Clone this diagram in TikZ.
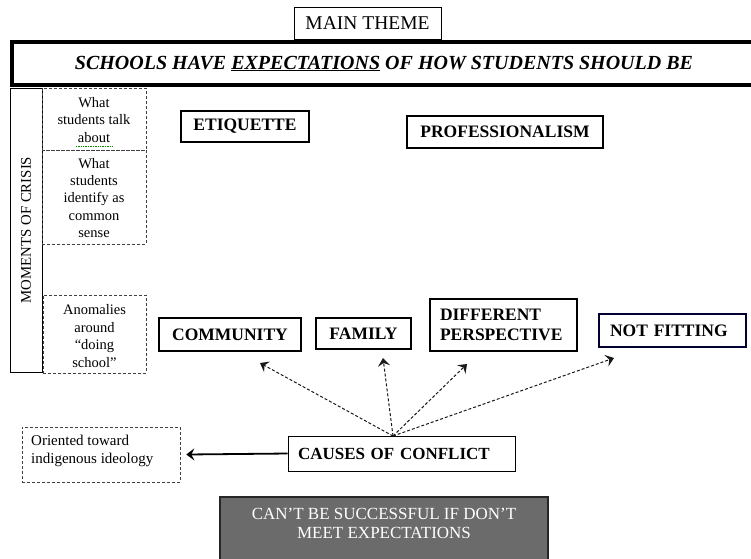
\documentclass[tikz,border=0pt]{standalone}
\usepackage{fontspec}
\setmainfont{Liberation Serif}
\usetikzlibrary{arrows.meta}

\tikzset{
  heavybox/.style={draw=black, line width=2.2pt, inner sep=0pt, font=\fontsize{17.5}{20}\selectfont\bfseries},
  lightbox/.style={draw=black, line width=0.8pt, inner sep=0pt},
  notebox/.style={draw=black!75, line width=0.6pt, densely dashed, inner sep=0pt},
  notetext/.style={align=center, font=\fontsize{14.5}{17.4}\selectfont, inner sep=0pt},
  chevron/.style={-{Stealth[length=8pt,width=12pt,inset=3pt]}},
  causearrow/.style={densely dashed, line width=1pt, black!90, chevron},
}

\begin{document}
\begin{tikzpicture}[x=1pt,y=-1pt]
\clip (0,0) rectangle (751,558);
\fill[white] (0,0) rectangle (751,558);

% title and main statement
\node[lightbox, minimum width=147, minimum height=32, font=\fontsize{19.5}{22}\selectfont]
  (theme) at (367.5,23) {MAIN THEME};
\node[draw=black, line width=4pt, minimum width=744, minimum height=43, inner sep=0pt,
  font=\fontsize{20}{22}\selectfont\bfseries\itshape]
  (banner) at (384,63.5) {SCHOOLS HAVE \underline{EXPECTATIONS} OF HOW STUDENTS SHOULD BE};

% moments of crisis column
\node[lightbox, rotate=90, minimum width=284, minimum height=32, font=\fontsize{14.8}{17}\selectfont]
  (crisis) at (26,230) {MOMENTS OF CRISIS};
\node[notebox, minimum width=104, minimum height=62] (talk) at (94,119) {};
\node[notetext] (talktxt) at (94,120) {What\\students talk\\about};
\draw[green!55!black, line width=0.7pt, densely dotted] (76,146) -- (112,146);
\node[notebox, minimum width=104, minimum height=94] (sense) at (94,197) {};
\node[notetext] (sensetxt) at (94,198) {What\\students\\identify as\\common\\sense};
\node[notebox, minimum width=103, minimum height=78] (anom) at (94.5,334) {};
\node[notetext] (anomtxt) at (94.5,336) {Anomalies\\around\\``doing\\school''};

% expectation themes
\node[heavybox, minimum width=128, minimum height=31] (etiq) at (245,126.5) {ETIQUETTE};
\node[heavybox, minimum width=196, minimum height=32] (prof) at (505,132) {PROFESSIONALISM};

% causes of conflict
\node[heavybox, minimum width=142, minimum height=33] (comm) at (230,334.5) {COMMUNITY};
\node[heavybox, minimum width=95, minimum height=31] (fam) at (363.5,333.5) {FAMILY};
\node[heavybox, minimum width=147, minimum height=52, text width=127, align=left,
  font=\fontsize{17.5}{20}\selectfont\bfseries] (persp) at (503.5,325) {DIFFERENT\\PERSPECTIVE};
\node[heavybox, draw=black!80!blue, minimum width=147, minimum height=33, text width=125, align=left]
  (notfit) at (672.5,330.5) {NOT FITTING};

\node[lightbox, minimum width=227, minimum height=35, text width=207, align=left,
  font=\fontsize{17}{20}\selectfont\bfseries] (causes) at (401.5,453.5) {CAUSES OF CONFLICT};

\node[notebox, minimum width=158, minimum height=55] (orient) at (101,454.5) {};
\node[align=left, anchor=north west, inner sep=0pt, font=\fontsize{15}{18}\selectfont]
  (orienttxt) at (31,435) {Oriented toward\\indigenous ideology};

\node[draw=black!85, line width=2pt, fill=black!58, minimum width=328, minimum height=80,
  inner sep=0pt] (fail) at (384,537) {};
\node[text=white, align=center, inner sep=0pt, font=\fontsize{17}{19}\selectfont]
  (failtxt) at (384,523) {CAN'T BE SUCCESSFUL IF DON'T\\MEET EXPECTATIONS};

% connectors
\coordinate (hub) at (393,436);
\coordinate (tipcomm) at (260,363);
\coordinate (tipfam) at (383,358);
\coordinate (tippersp) at (467,364);
\coordinate (tipnot) at (614,358);
\draw[causearrow] (hub) -- (tipcomm);
\draw[causearrow] (hub) -- (tipfam);
\draw[causearrow] (hub) -- (tippersp);
\draw[causearrow] (hub) -- (tipnot);

\draw[line width=1.8pt, chevron] (causes.west) -- ([xshift=6pt]orient.east);
\end{tikzpicture}
\end{document}
